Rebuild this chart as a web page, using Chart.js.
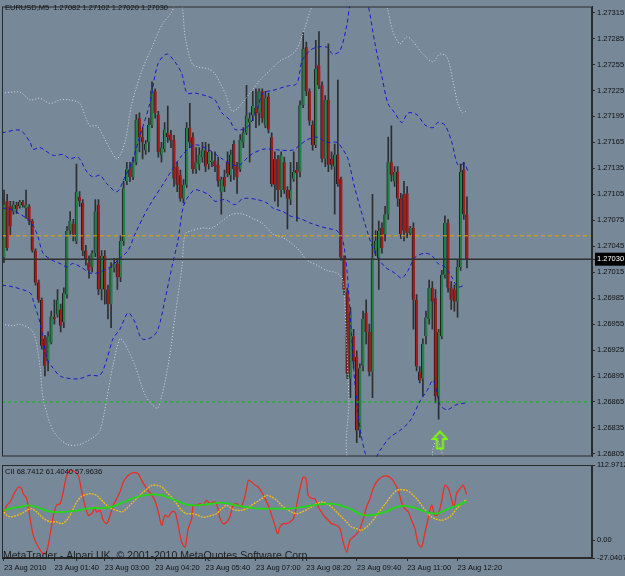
<!DOCTYPE html>
<html>
<head>
<meta charset="utf-8">
<title>EURUSD,M5</title>
<script src="https://cdn.jsdelivr.net/npm/chart.js@4.4.1/dist/chart.umd.min.js"></script>
<style>
	html, body { margin: 0; padding: 0; background: #778899; }
	#wrap { position: relative; width: 625px; height: 576px; overflow: hidden; background: #778899; }
	#priceChart { position: absolute; left: 0; top: 0; }
	#oscChart { position: absolute; left: 0; top: 452px; }
</style>
</head>
<body>
<div id="wrap">
	<canvas id="priceChart" width="625" height="463"></canvas>
	<canvas id="oscChart" width="625" height="124"></canvas>
</div>
<script>
/* =============================================
   EURUSD M5 — candles, bands, CII sub-window
   ============================================= */

// ─── Data ──────────────────────────────────────
const symbol = "EURUSD,M5";

const opens = [1.27032,1.27097,1.27091,1.27085,1.27093,1.27091,1.27096,1.27089,1.27091,1.27074,
	1.27040,1.27003,1.26983,1.26938,1.26912,1.26934,1.26963,1.26966,1.26972,1.26957,
	1.26989,1.27063,1.27071,1.27051,1.27102,1.27095,1.27040,1.27026,1.27021,1.27037,
	1.27093,1.26995,1.27034,1.26995,1.26978,1.27020,1.27025,1.27009,1.27051,1.27120,
	1.27134,1.27125,1.27142,1.27193,1.27171,1.27156,1.27165,1.27185,1.27224,1.27197,
	1.27150,1.27157,1.27176,1.27174,1.27168,1.27137,1.27127,1.27100,1.27116,1.27182,
	1.27171,1.27134,1.27140,1.27148,1.27156,1.27140,1.27142,1.27144,1.27139,1.27108,
	1.27125,1.27142,1.27127,1.27163,1.27137,1.27134,1.27165,1.27176,1.27188,1.27196,
	1.27205,1.27199,1.27224,1.27185,1.27218,1.27171,1.27146,1.27146,1.27110,1.27142,
	1.27110,1.27099,1.27123,1.27133,1.27131,1.27208,1.27275,1.27224,1.27185,1.27162,
	1.27254,1.27231,1.27146,1.27214,1.27146,1.27137,1.27151,1.27123,1.27032,1.26992,
	1.26892,1.26941,1.26917,1.26832,1.26907,1.26968,1.26946,1.26900,1.27040,1.27032,
	1.27066,1.27059,1.27082,1.27142,1.27120,1.27131,1.27100,1.27105,1.27106,1.27060,
	1.27066,1.26983,1.26900,1.26892,1.26941,1.26961,1.26997,1.26985,1.26872,1.26941,
	1.27012,1.27072,1.26997,1.26995,1.26981,1.27021,1.27133,1.27082];
const highs = [1.27110,1.27105,1.27097,1.27097,1.27096,1.27098,1.27098,1.27110,1.27093,1.27076,
	1.27042,1.27006,1.26985,1.26942,1.26946,1.26970,1.26983,1.26995,1.26978,1.26997,
	1.27068,1.27085,1.27076,1.27140,1.27108,1.27099,1.27046,1.27034,1.27040,1.27099,
	1.27099,1.27040,1.27040,1.27000,1.27026,1.27031,1.27031,1.27057,1.27120,1.27142,
	1.27142,1.27148,1.27197,1.27199,1.27182,1.27167,1.27193,1.27235,1.27227,1.27201,
	1.27165,1.27188,1.27207,1.27179,1.27173,1.27142,1.27133,1.27122,1.27188,1.27210,
	1.27176,1.27159,1.27159,1.27165,1.27165,1.27163,1.27154,1.27154,1.27148,1.27125,
	1.27133,1.27154,1.27156,1.27167,1.27142,1.27174,1.27182,1.27231,1.27199,1.27224,
	1.27227,1.27227,1.27227,1.27224,1.27222,1.27176,1.27154,1.27150,1.27154,1.27148,
	1.27114,1.27142,1.27154,1.27142,1.27213,1.27292,1.27281,1.27227,1.27190,1.27283,
	1.27293,1.27235,1.27219,1.27279,1.27154,1.27163,1.27237,1.27125,1.27034,1.26997,
	1.26974,1.26949,1.26924,1.26909,1.26970,1.26983,1.26955,1.27105,1.27063,1.27074,
	1.27072,1.27091,1.27171,1.27184,1.27137,1.27137,1.27106,1.27120,1.27114,1.27068,
	1.27072,1.26989,1.26906,1.26938,1.26970,1.27006,1.27004,1.26995,1.26949,1.27017,
	1.27080,1.27076,1.27004,1.27000,1.27029,1.27140,1.27142,1.27102];
const lows = [1.27026,1.27040,1.27057,1.27082,1.27083,1.27089,1.27090,1.27077,1.27070,1.27038,
	1.27000,1.26980,1.26926,1.26895,1.26901,1.26932,1.26955,1.26963,1.26946,1.26951,
	1.26985,1.27059,1.27051,1.27048,1.27091,1.27034,1.27023,1.27008,1.27015,1.27033,
	1.26989,1.26983,1.26978,1.26961,1.26951,1.27015,1.26995,1.27004,1.27046,1.27116,
	1.27120,1.27122,1.27139,1.27154,1.27146,1.27151,1.27154,1.27182,1.27193,1.27148,
	1.27142,1.27154,1.27165,1.27159,1.27114,1.27108,1.27097,1.27095,1.27113,1.27159,
	1.27129,1.27129,1.27133,1.27142,1.27131,1.27134,1.27137,1.27131,1.27114,1.27082,
	1.27108,1.27125,1.27120,1.27122,1.27106,1.27131,1.27159,1.27174,1.27142,1.27190,
	1.27182,1.27185,1.27188,1.27182,1.27176,1.27114,1.27097,1.27091,1.27102,1.27106,
	1.27065,1.27093,1.27120,1.27074,1.27125,1.27205,1.27219,1.27185,1.27156,1.27159,
	1.27227,1.27142,1.27137,1.27131,1.27134,1.27082,1.27114,1.27029,1.26989,1.26892,
	1.26870,1.26904,1.26818,1.26824,1.26901,1.26932,1.26895,1.26870,1.27034,1.26995,
	1.27037,1.27051,1.27076,1.27120,1.27114,1.27091,1.27054,1.27051,1.27055,1.27057,
	1.26949,1.26901,1.26887,1.26872,1.26932,1.26955,1.26949,1.26864,1.26845,1.26938,
	1.27008,1.26992,1.26972,1.26970,1.26963,1.27017,1.27076,1.27020];
const closes = [1.27093,1.27043,1.27068,1.27093,1.27088,1.27096,1.27092,1.27093,1.27074,1.27040,
	1.27003,1.26983,1.26930,1.26907,1.26941,1.26964,1.26961,1.26983,1.26953,1.26991,
	1.27063,1.27074,1.27059,1.27108,1.27097,1.27040,1.27029,1.27017,1.27037,1.27085,
	1.26995,1.27034,1.26995,1.26978,1.27020,1.27025,1.27009,1.27051,1.27112,1.27134,
	1.27125,1.27142,1.27191,1.27171,1.27165,1.27163,1.27185,1.27225,1.27199,1.27154,
	1.27159,1.27180,1.27171,1.27167,1.27123,1.27116,1.27100,1.27116,1.27182,1.27165,
	1.27134,1.27142,1.27151,1.27156,1.27137,1.27154,1.27144,1.27137,1.27120,1.27122,
	1.27114,1.27129,1.27151,1.27134,1.27125,1.27168,1.27176,1.27196,1.27193,1.27207,
	1.27197,1.27224,1.27193,1.27216,1.27180,1.27117,1.27116,1.27110,1.27150,1.27110,
	1.27100,1.27110,1.27131,1.27129,1.27208,1.27273,1.27224,1.27190,1.27162,1.27250,
	1.27231,1.27146,1.27214,1.27139,1.27139,1.27151,1.27117,1.27032,1.26995,1.26898,
	1.26968,1.26912,1.26832,1.26904,1.26961,1.26946,1.26900,1.27032,1.27051,1.27063,
	1.27043,1.27082,1.27142,1.27127,1.27131,1.27100,1.27059,1.27063,1.27060,1.27066,
	1.26983,1.26906,1.26890,1.26932,1.26963,1.26997,1.26981,1.26872,1.26946,1.27012,
	1.27072,1.26997,1.26983,1.26981,1.27021,1.27131,1.27082,1.27030];

// bands: bar position + price
const upperBandX = [-0.6,5.1,8.3,9.2,11.4,15.6,18.7,21.0,23.5,26.3,28.3,30.5,32.7,35.9,38.4,40.6,43.2,46.3,48.9,51.7,
	54.3,56.5,58.1,60.6,64.8,67.0,69.2,71.7,73.3,77.1,80.3,82.2,85.4,89.8,93.0,94.6,97.1,99.4,102.5,104.4,
	106.7,108.9,109.8,111.4,113.7,115.6,117.8,120.0,121.9,124.1,126.3,128.3,131.1,133.7,136.2,137.8,140.0,142.2,144.1,146.3,147.3];
const upperBand = [1.27176,1.27179,1.27165,1.27157,1.27159,1.27150,1.27151,1.27146,1.27148,1.27131,1.27125,1.27127,1.27117,1.27108,1.27125,1.27142,1.27173,1.27210,1.27256,1.27267,
	1.27258,1.27244,1.27222,1.27222,1.27218,1.27214,1.27199,1.27191,1.27180,1.27182,1.27202,1.27222,1.27225,1.27230,1.27233,1.27259,1.27271,1.27275,1.27275,1.27267,
	1.27271,1.27301,1.27324,1.27347,1.27347,1.27324,1.27279,1.27241,1.27210,1.27199,1.27188,1.27199,1.27197,1.27185,1.27182,1.27188,1.27185,1.27165,1.27139,1.27140,1.27131];

const middleBandX = [-0.6,1.9,5.1,8.3,10.5,12.4,15.2,17.8,20.0,21.9,24.8,27.3,29.5,33.7,36.8,39.4,41.6,45.7,51.1,56.5,
	60.6,64.8,69.2,72.4,74.9,78.1,82.2,85.4,87.6,91.7,94.0,96.2,99.4,102.5,105.7,107.6,109.2,111.4,114.6,117.8,
	121.0,124.1,126.3,128.3,130.5,133.7,135.9,137.8,140.0,142.2,144.1,146.3];
const middleBand = [1.27089,1.27088,1.27082,1.27074,1.27059,1.27037,1.27029,1.27025,1.27021,1.27025,1.27020,1.27014,1.27014,1.27021,1.27031,1.27040,1.27059,1.27089,1.27120,1.27150,
	1.27162,1.27157,1.27146,1.27139,1.27139,1.27150,1.27157,1.27157,1.27156,1.27156,1.27162,1.27168,1.27171,1.27165,1.27165,1.27157,1.27146,1.27112,1.27071,1.27037,
	1.27021,1.27014,1.27008,1.27017,1.27032,1.27037,1.27034,1.27025,1.27021,1.27009,1.26998,1.27000];

const lowerBandX = [-0.6,2.9,8.3,9.2,11.4,13.7,15.6,17.8,21.0,24.1,27.3,30.5,32.7,34.6,36.8,39.4,41.6,43.8,47.0,48.9,
	51.1,53.3,55.2,56.8,58.1,60.6,64.8,67.0,70.2,73.3,75.9,80.3,83.5,85.4,88.6,90.8,94.0,97.1,100.3,103.5,
	105.7,107.6,108.9,109.8,111.4,113.0,114.6,116.2,117.8,119.4,122.5,125.7,128.9,132.1,134.3,136.2,137.5,138.4,140.6,143.8,147.0];
const lowerBand = [1.27000,1.26998,1.26991,1.26983,1.26957,1.26915,1.26904,1.26895,1.26892,1.26892,1.26896,1.26896,1.26915,1.26938,1.26949,1.26968,1.26957,1.26938,1.26940,1.26949,
	1.26983,1.27021,1.27051,1.27089,1.27100,1.27110,1.27105,1.27097,1.27099,1.27093,1.27100,1.27099,1.27095,1.27089,1.27085,1.27080,1.27077,1.27072,1.27068,1.27065,
	1.27063,1.27051,1.27017,1.26972,1.26887,1.26836,1.26807,1.26796,1.26799,1.26809,1.26824,1.26832,1.26843,1.26866,1.26878,1.26890,1.26875,1.26862,1.26856,1.26862,1.26864];

const outerUpperX = [-0.6,5.1,8.3,11.4,14.6,17.8,21.0,24.1,25.7,27.3,29.5,31.4,33.7,35.9,38.4,40.6,43.8,47.0,50.2,53.3,
	54.9,56.5,57.5,59.7,61.6,64.8,67.0,70.2,72.7,78.1,81.3,84.4,87.6,90.8,93.0,94.6,95.6,97.1,98.1,100.3,
	119.4,121.6,123.5,125.7,127.9,129.8,133.0,136.2,138.4,140.6,142.5,144.1,145.7,147.0];
const outerUpper = [1.27222,1.27223,1.27214,1.27216,1.27210,1.27214,1.27214,1.27210,1.27196,1.27184,1.27184,1.27173,1.27157,1.27146,1.27165,1.27210,1.27248,1.27275,1.27301,1.27316,
	1.27330,1.27324,1.27287,1.27256,1.27252,1.27250,1.27244,1.27222,1.27201,1.27222,1.27237,1.27248,1.27259,1.27265,1.27273,1.27287,1.27298,1.27316,1.27324,1.27341,
	1.27341,1.27321,1.27293,1.27279,1.27287,1.27282,1.27267,1.27258,1.27267,1.27264,1.27237,1.27210,1.27199,1.27202];

const outerLowerX = [-0.6,2.9,5.1,9.2,11.4,12.4,15.6,20.0,24.1,28.3,30.5,32.7,34.6,36.8,38.4,41.6,44.8,47.0,48.9,52.1,
	54.3,56.5,57.5,59.7,62.9,66.0,69.2,72.4,75.9,79.0,82.2,85.4,88.6,93.0,96.2,99.4,102.5,105.7,107.6,108.6,
	109.5,110.5,135.2,136.2,137.5,139.0,140.9];
const outerLower = [1.26955,1.26953,1.26955,1.26946,1.26907,1.26870,1.26832,1.26816,1.26816,1.26824,1.26832,1.26870,1.26907,1.26938,1.26932,1.26907,1.26873,1.26862,1.26858,1.26907,
	1.26964,1.27021,1.27059,1.27063,1.27066,1.27066,1.27074,1.27082,1.27082,1.27077,1.27071,1.27059,1.27055,1.27043,1.27029,1.27023,1.27017,1.27014,1.27006,1.26949,
	1.26870,1.26790,1.26790,1.26811,1.26821,1.26807,1.26790];

// levels
const lastPrice = 1.27030;
const greenLevel = 1.26865;
const orangeLevel = 1.27057;
const arrowBar = 138.4;
const arrowPrice = 1.26821;

// price axis
const priceMin = 1.26802;
const priceMax = 1.27322;
const priceTicks = [1.27315,1.27285,1.27255,1.27225,1.27195,1.27165,1.27135,1.27105,1.27075,1.27045,
	1.27015,1.26985,1.26955,1.26925,1.26895,1.26865,1.26835,1.26805];

// time axis
const xMin = -0.635;
const xMax = 186.7;
const timeTickBars = [0,16,32,48,64,80,96,112,128,144];
const timeLabels = ["23 Aug 2010","23 Aug 01:40","23 Aug 03:00","23 Aug 04:20","23 Aug 05:40",
	"23 Aug 07:00","23 Aug 08:20","23 Aug 09:40","23 Aug 11:00","23 Aug 12:20"];

// CII sub-window
const ciiRedX = [0,0.9,1.9,3.5,4.6,5.6,6.1,7.2,8.3,9.3,10.9,12.5,13.5,14.6,15.7,16.7,17.8,18.8,19.9,21.0,
	22.5,23.6,24.7,25.7,26.8,27.8,28.9,29.4,30.5,31.5,32.6,33.7,34.7,35.8,36.8,37.9,39.5,41.1,42.6,43.7,
	45.3,46.9,47.9,49.0,50.1,51.1,52.2,53.2,54.3,55.3,56.4,57.5,58.5,59.6,60.1,61.2,62.2,63.3,64.3,65.4,
	66.5,67.5,68.6,69.6,70.7,71.7,72.8,73.9,74.9,76.0,77.0,77.6,78.6,79.7,80.7,81.8,82.9,83.9,85.0,86.0,
	86.9,87.6,88.7,89.7,90.8,91.9,92.9,94.0,95.0,95.9,96.6,97.7,98.7,99.8,100.8,101.9,103.0,104.0,105.6,106.7,
	107.7,108.8,109.8,110.9,112.0,113.0,114.1,115.1,116.2,117.2,118.3,119.9,121.5,123.1,124.1,125.2,126.2,127.3,128.4,129.4,
	130.5,131.5,132.6,133.7,134.7,135.8,136.8,137.9,138.9,140.0,141.1,142.1,142.9,143.7,144.8,145.8,146.9];
const ciiRed = [42.2,52.3,57.3,72.3,79.9,77.4,69.8,62.3,32.2,7.1,-10.5,-20.5,-18.0,7.1,37.2,52.3,54.8,72.3,97.4,105.0,
	102.4,97.4,72.3,52.3,37.2,39.7,47.2,42.2,44.7,29.7,24.7,37.2,52.3,62.3,72.3,87.4,97.4,101.4,99.9,89.9,
	77.4,67.3,59.8,42.2,22.2,37.2,34.7,42.2,42.2,22.2,-2.9,-10.5,17.1,32.2,52.3,52.3,54.8,52.3,59.8,54.8,
	57.3,54.8,32.2,24.7,27.2,34.7,52.3,54.8,49.8,57.3,77.4,89.9,87.4,82.4,79.9,72.3,62.3,52.3,37.2,22.2,
	9.6,19.6,24.7,24.7,27.2,32.2,52.3,77.4,94.9,92.4,67.3,62.3,62.3,49.8,42.2,34.7,29.7,24.7,22.2,17.1,
	-2.9,-18.0,-0.4,4.6,9.6,17.1,32.2,49.8,62.3,77.4,87.4,94.9,96.4,92.4,84.9,74.8,57.3,47.2,42.2,29.7,
	17.1,-5.4,-10.5,12.1,32.2,52.3,37.2,39.7,57.3,82.4,77.4,62.3,49.8,69.8,77.4,82.4,68.7412];

const ciiOrangeX = [0,0.9,2.4,4.0,5.6,7.2,8.8,10.4,12.0,13.5,15.1,16.7,18.3,19.9,21.5,23.1,24.7,26.2,27.8,29.4,
	31.0,32.6,34.2,35.8,37.4,38.9,40.5,42.1,43.7,45.3,46.9,48.5,50.1,51.6,53.2,54.8,56.4,58.0,59.6,61.2,
	62.8,64.3,65.9,67.5,69.1,70.7,72.3,73.9,75.4,77.0,78.6,80.2,81.8,83.4,85.0,86.6,88.1,89.7,91.3,92.9,
	94.5,96.1,97.7,99.3,100.8,102.4,104.0,105.6,107.2,108.8,110.4,112.0,113.5,115.1,116.7,118.3,119.9,121.5,123.1,124.7,
	126.2,127.8,129.4,131.0,132.6,134.2,135.8,137.4,138.9,140.5,142.1,143.7,145.3,146.9];
const ciiOrange = [42.2,37.2,34.7,37.2,39.7,44.7,47.2,42.2,34.7,29.7,27.2,27.2,24.7,29.7,42.2,57.3,65.8,68.8,69.8,67.3,
	59.8,52.3,47.2,44.7,42.2,47.2,54.8,62.3,69.8,76.4,82.4,82.4,79.9,72.3,64.8,54.8,44.7,39.7,39.7,38.2,
	34.7,34.7,37.2,39.7,47.2,52.3,47.2,44.7,44.7,47.2,52.3,57.3,62.3,67.3,64.8,59.8,52.3,47.2,42.2,39.7,
	42.2,45.7,49.8,54.8,57.3,54.8,49.8,42.2,34.7,27.2,19.6,17.1,14.6,19.6,27.2,37.2,47.2,57.3,67.3,74.8,
	75.8,74.8,69.8,62.3,52.3,42.2,34.7,31.2,29.7,32.2,37.2,47.2,54.8,61.4040];

const ciiGreenX = [0,1.9,5.1,7.7,10.4,13.0,15.7,18.3,21.0,23.6,26.2,28.9,31.5,34.2,36.8,39.5,42.1,44.8,47.4,50.1,
	52.7,55.3,58.0,60.6,63.3,65.9,68.6,71.2,73.9,76.5,79.2,81.8,84.4,87.1,89.7,92.4,95.0,97.7,100.3,103.0,
	105.6,108.3,110.9,113.5,116.2,118.8,121.5,124.1,126.8,129.4,132.1,134.7,137.4,140.0,142.6,145.3,146.9];
const ciiGreen = [44.7,47.2,49.8,52.3,49.8,44.7,42.2,42.2,43.2,44.7,47.2,48.2,48.2,49.8,54.8,59.8,64.8,67.3,68.8,67.3,
	63.3,58.3,53.3,52.3,53.3,54.8,56.3,54.8,52.3,49.8,48.2,47.2,47.2,47.2,47.2,48.2,49.8,52.3,53.8,54.8,
	53.8,49.8,44.7,38.2,37.2,39.7,43.2,48.8,51.3,49.8,45.7,41.2,39.7,44.7,49.8,54.8,57.9636];

const oscMin = -27.0407;
const oscMax = 112.9712;
const oscTicks = [112.9712, 0, -27.0407];

// ─── Helpers ───────────────────────────────────
const FAMILY = "'Liberation Sans', Arial, sans-serif";
const INK = "#111";
const FRAME = "#2a2a2a";
const pts = (xs, ys) => xs.map((x, i) => ({ x, y: ys[i] }));
const hline = (level) => [{ x: xMin, y: level }, { x: xMax, y: level }];
const last = closes.length - 1;

function bandLine(label, xs, ys, color, dash) {
	return {
		type: "line",
		label,
		data: pts(xs, ys),
		borderColor: color,
		borderWidth: 1,
		borderDash: dash,
		pointRadius: 0,
		tension: 0.3,
		order: 5,
	};
}

function levelLine(label, level, color, dash, width) {
	return {
		type: "line",
		label,
		data: hline(level),
		borderColor: color,
		borderWidth: width || 1,
		borderDash: dash || [],
		pointRadius: 0,
		order: 4,
	};
}

function makeArrow() {
	const c = document.createElement("canvas");
	c.width = 17;
	c.height = 20;
	const g = c.getContext("2d");
	g.strokeStyle = "#7cfc00";
	g.lineWidth = 2;
	g.beginPath();
	g.moveTo(8.5, 1.5);
	g.lineTo(15.5, 9);
	g.lineTo(11.5, 9);
	g.lineTo(11.5, 18.5);
	g.lineTo(5.5, 18.5);
	g.lineTo(5.5, 9);
	g.lineTo(1.5, 9);
	g.closePath();
	g.stroke();
	return c;
}

// frame round the plot area
const framePlugin = {
	id: "frame",
	afterDraw(chart) {
		const { ctx, chartArea: a } = chart;
		ctx.save();
		ctx.strokeStyle = FRAME;
		ctx.lineWidth = 1;
		ctx.strokeRect(a.left + 0.5, a.top + 0.5, a.right - a.left - 1, a.bottom - a.top - 1);
		ctx.restore();
	},
};

// header / window texts
const textPlugin = {
	id: "overlayText",
	afterDraw(chart, args, opts) {
		const ctx = chart.ctx;
		ctx.save();
		ctx.textBaseline = "middle";
		(opts.items || []).forEach((t) => {
			ctx.font = t.font;
			ctx.fillStyle = t.color || INK;
			ctx.fillText(t.text, t.x, t.y);
		});
		ctx.restore();
	},
};

// ─── Price window ──────────────────────────────
const bodyColors = closes.map((c, i) => (c >= opens[i] ? "#25804a" : "#a41c1c"));
const header = `${symbol}  ${opens[last].toFixed(5)} ${highs[last].toFixed(5)} ${lows[last].toFixed(5)} ${closes[last].toFixed(5)}`;

new Chart(document.getElementById("priceChart"), {
	type: "bar",
	data: {
		datasets: [
			{
				type: "line",
				label: "signal",
				data: [{ x: arrowBar, y: arrowPrice }],
				showLine: false,
				pointStyle: makeArrow(),
				pointRadius: 6,
				order: 1,
			},
			levelLine("bid", lastPrice, "#303030", [], 1.5),
			levelLine("support", greenLevel, "#00c000", [3, 3]),
			levelLine("level", orangeLevel, "#e8a000", [4, 3]),
			bandLine("upper", upperBandX, upperBand, "#1818d0", [4, 3]),
			bandLine("middle", middleBandX, middleBand, "#1818d0", [4, 3]),
			bandLine("lower", lowerBandX, lowerBand, "#1818d0", [4, 3]),
			bandLine("outer upper", outerUpperX, outerUpper, "#d8d8d8", [1, 2]),
			bandLine("outer lower", outerLowerX, outerLower, "#d8d8d8", [1, 2]),
			{
				label: "body",
				data: opens.map((o, i) => ({ x: i, y: [o, closes[i]] })),
				backgroundColor: bodyColors,
				borderColor: "#1e1e1e",
				borderWidth: { left: 1, right: 0, top: 0, bottom: 0 },
				borderSkipped: false,
				barThickness: 3,
				minBarLength: 1,
				grouped: false,
				order: 9,
			},
			{
				label: "wick",
				data: lows.map((l, i) => ({ x: i, y: [l, highs[i]] })),
				backgroundColor: "#2e2e2e",
				borderWidth: 0,
				barThickness: 1,
				grouped: false,
				order: 10,
			},
		],
	},
	options: {
		responsive: false,
		animation: false,
		layout: { autoPadding: false, padding: { left: 2, top: 2, right: 0, bottom: 3 } },
		plugins: {
			legend: { display: false },
			tooltip: { enabled: false },
			overlayText: {
				items: [{ text: header, x: 5, y: 8, font: `7.5px ${FAMILY}` }],
			},
		},
		scales: {
			x: { type: "linear", min: xMin, max: xMax, offset: false, display: false },
			y: {
				position: "right",
				min: priceMin,
				max: priceMax,
				afterBuildTicks: (s) => {
					s.ticks = priceTicks.concat([lastPrice]).sort((a, b) => b - a).map((v) => ({ value: v }));
				},
				afterFit: (s) => {
					s.width = 33;
				},
				ticks: {
					autoSkip: false,
					padding: 2,
					font: { family: FAMILY, size: 7.5 },
					color: (c) => (c.tick && c.tick.value === lastPrice ? "#fff" : INK),
					showLabelBackdrop: true,
					backdropColor: (c) => (c.tick && c.tick.value === lastPrice ? "#000" : "rgba(0,0,0,0)"),
					backdropPadding: { x: 2, y: 2 },
					callback: (v) => Number(v).toFixed(5),
				},
				grid: { drawOnChartArea: false, tickLength: 3, color: FRAME },
				border: { color: FRAME },
			},
		},
	},
	plugins: [framePlugin, textPlugin],
});

// ─── CII window ────────────────────────────────
const ciiHeader = `CII ${ciiRed[ciiRed.length - 1].toFixed(4)} ${ciiOrange[ciiOrange.length - 1].toFixed(4)} ${ciiGreen[ciiGreen.length - 1].toFixed(4)}`;

new Chart(document.getElementById("oscChart"), {
	type: "line",
	data: {
		datasets: [
			{ label: "signal", data: pts(ciiGreenX, ciiGreen), borderColor: "#22d814", borderWidth: 1.8, pointRadius: 0, tension: 0.3 },
			{ label: "slow", data: pts(ciiOrangeX, ciiOrange), borderColor: "#f8bc10", borderWidth: 1.3, borderDash: [2, 1], pointRadius: 0, tension: 0.3 },
			{ label: "CII", data: pts(ciiRedX, ciiRed), borderColor: "#ec2e24", borderWidth: 1.3, pointRadius: 0, tension: 0.3 },
		],
	},
	options: {
		responsive: false,
		animation: false,
		layout: { autoPadding: false, padding: { left: 2, top: 13, right: 0, bottom: 0 } },
		plugins: {
			legend: { display: false },
			tooltip: { enabled: false },
			overlayText: {
				items: [
					{ text: ciiHeader, x: 5, y: 20, font: `7.5px ${FAMILY}` },
					{ text: "MetaTrader - Alpari UK, © 2001-2010 MetaQuotes Software Corp.", x: 3, y: 104, font: `10.5px ${FAMILY}`, color: "#1e1e1e" },
				],
			},
		},
		scales: {
			x: {
				type: "linear",
				min: xMin,
				max: xMax,
				afterBuildTicks: (s) => {
					s.ticks = timeTickBars.map((v) => ({ value: v }));
				},
				afterFit: (s) => {
					s.height = 18;
				},
				ticks: {
					autoSkip: false,
					maxRotation: 0,
					align: "start",
					padding: 2,
					font: { family: FAMILY, size: 7.5 },
					color: INK,
					callback: (v, i) => timeLabels[i],
				},
				grid: { drawOnChartArea: false, tickLength: 3, color: FRAME },
				border: { color: FRAME },
			},
			y: {
				position: "right",
				min: oscMin,
				max: oscMax,
				afterBuildTicks: (s) => {
					s.ticks = oscTicks.map((v) => ({ value: v }));
				},
				afterFit: (s) => {
					s.width = 33;
				},
				ticks: {
					autoSkip: false,
					padding: 2,
					font: { family: FAMILY, size: 7.5 },
					color: INK,
					callback: (v) => (v === 0 ? "0.00" : Number(v).toFixed(4)),
				},
				grid: { drawOnChartArea: false, tickLength: 3, color: FRAME },
				border: { color: FRAME },
			},
		},
	},
	plugins: [framePlugin, textPlugin],
});
</script>
</body>
</html>
